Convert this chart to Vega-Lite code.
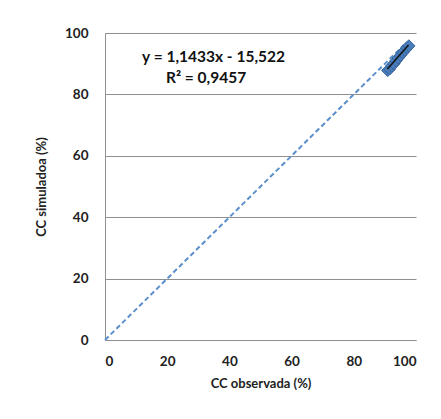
{
  "$schema": "https://vega.github.io/schema/vega-lite/v6.json",
  "width": 311,
  "height": 307,
  "autosize": "none",
  "padding": {"left": 105, "top": 33, "right": 25, "bottom": 79},
  "background": "white",
  "config": {
    "view": {"stroke": null},
    "font": "Lato",
    "axis": {
      "labelFont": "Lato", "titleFont": "Lato",
      "labelFontWeight": "bold", "titleFontWeight": "bold",
      "labelFontSize": 13.5, "titleFontSize": 13,
      "labelColor": "#222", "titleColor": "#222",
      "domainColor": "#8f8f8f", "gridColor": "#8f8f8f",
      "ticks": false
    }
  },
  "datasets": {
    "pts": [
      {"obs": 90.9, "sim": 87.8},
      {"obs": 91.5, "sim": 88.3},
      {"obs": 92.2, "sim": 89.3},
      {"obs": 92.9, "sim": 90.0},
      {"obs": 93.6, "sim": 91.0},
      {"obs": 94.3, "sim": 91.9},
      {"obs": 95.0, "sim": 92.7},
      {"obs": 95.7, "sim": 93.6},
      {"obs": 96.4, "sim": 94.4},
      {"obs": 97.1, "sim": 95.2},
      {"obs": 97.7, "sim": 95.8}
    ],
    "diag": [
      {"obs": 0, "sim": 0},
      {"obs": 96, "sim": 96}
    ],
    "trend": [
      {"obs": 90.8, "sim": 88.3},
      {"obs": 97.6, "sim": 96.1}
    ],
    "eq": [
      {"obs": 34.9, "sim": 92.3, "t": "y = 1,1433x - 15,522"},
      {"obs": 32.5, "sim": 85.3, "t": "R² = 0,9457"}
    ]
  },
  "layer": [
    {
      "data": {"name": "diag"},
      "mark": {"type": "line", "color": "#5b8fcc", "strokeDash": [5, 3], "strokeWidth": 2},
      "encoding": {
        "x": {"field": "obs", "type": "quantitative", "scale": {"domain": [0, 100]},
              "axis": {"title": "CC observada  (%)", "values": [0, 20, 40, 60, 80, 100], "grid": false, "labelPadding": 14, "titlePadding": 10}},
        "y": {"field": "sim", "type": "quantitative", "scale": {"domain": [0, 100]},
              "axis": {"title": "CC simuladoa (%)", "values": [0, 20, 40, 60, 80, 100], "grid": true, "labelPadding": 17, "titlePadding": 16}}
      }
    },
    {
      "data": {"name": "pts"},
      "mark": {"type": "point", "shape": "diamond", "filled": true, "size": 150, "color": "#4a7ebb", "stroke": "#35649e", "strokeWidth": 1, "opacity": 1},
      "encoding": {
        "x": {"field": "obs", "type": "quantitative"},
        "y": {"field": "sim", "type": "quantitative"}
      }
    },
    {
      "data": {"name": "trend"},
      "mark": {"type": "line", "color": "#111", "strokeWidth": 1.5},
      "encoding": {
        "x": {"field": "obs", "type": "quantitative"},
        "y": {"field": "sim", "type": "quantitative"}
      }
    },
    {
      "data": {"name": "eq"},
      "mark": {"type": "text", "font": "Lato", "fontWeight": "bold", "fontSize": 15.5, "color": "#111"},
      "encoding": {
        "x": {"field": "obs", "type": "quantitative"},
        "y": {"field": "sim", "type": "quantitative"},
        "text": {"field": "t"}
      }
    }
  ]
}
